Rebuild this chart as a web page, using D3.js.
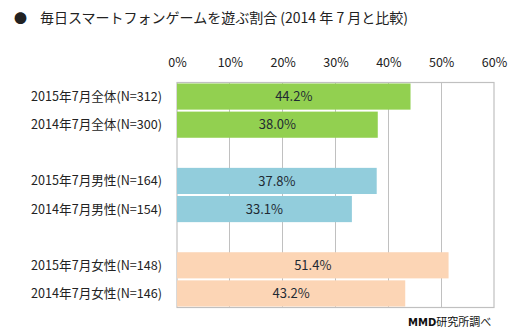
<!DOCTYPE html>
<html><head><meta charset="utf-8">
<script src="https://cdn.jsdelivr.net/npm/d3@7"></script>
<style>body{margin:0;background:#fff;}svg{display:block;font-family:"Noto Sans CJK JP","DejaVu Sans",sans-serif;}</style>
</head><body><div id="c"></div>
<script>
const categories = ["2015年7月全体(N=312)","2014年7月全体(N=300)","gap1","2015年7月男性(N=164)","2014年7月男性(N=154)","gap2","2015年7月女性(N=148)","2014年7月女性(N=146)"];
const values = [44.2, 38.0, null, 37.8, 33.1, null, 51.4, 43.2];
const colorGroups = ["all","all",null,"male","male",null,"female","female"];
const tickValues = [0,10,20,30,40,50,60];
const title = "毎日スマートフォンゲームを遊ぶ割合 (2014 年 7 月と比較)";
const source = "研究所調べ";

const W=516,H=331;
const svg=d3.select("#c").append("svg").attr("width",W).attr("height",H);
const colors={all:"#92D050",male:"#92CDDC",female:"#FCD5B5"};
const x=d3.scaleLinear().domain([0,60]).range([177,494]);
const y=d3.scaleBand().domain(categories).range([82.5,307.5]).paddingInner(0.07).paddingOuter(0.035);

// title
svg.append("text").attr("x",14).attr("y",23).attr("font-size",13).attr("fill","#222").text("●");
svg.append("text").attr("x",40).attr("y",23).attr("font-size",14).attr("fill","#222").text(title);

// gridlines
svg.append("g").selectAll("line").data(tickValues.slice(1,-1)).join("line")
  .attr("x1",d=>x(d)).attr("x2",d=>x(d)).attr("y1",82.5).attr("y2",307.5)
  .attr("stroke","#c0c0c0").attr("stroke-width",1).attr("shape-rendering","crispEdges");

// plot border
svg.append("rect").attr("x",x(0)).attr("y",82.5).attr("width",x(60)-x(0)).attr("height",225)
  .attr("fill","none").attr("stroke","#c0c0c0").attr("stroke-width",1.2);

// top axis
const ax=d3.axisTop(x).tickValues(tickValues).tickFormat(d=>d+"%").tickSize(0).tickPadding(0);
const axg=svg.append("g").attr("transform","translate(0,67)").call(ax);
axg.select(".domain").remove();
axg.selectAll("text").attr("font-size",12.5).attr("fill","#222").attr("font-family","'Noto Sans CJK JP',sans-serif");

// bars
const data=categories.map((c,i)=>({c,v:values[i],g:colorGroups[i]})).filter(d=>d.v!==null);
svg.append("g").selectAll("rect").data(data).join("rect")
  .attr("x",x(0)).attr("y",d=>y(d.c)).attr("width",d=>x(d.v)-x(0)).attr("height",y.bandwidth())
  .attr("fill",d=>colors[d.g]);
svg.append("g").selectAll("text").data(data).join("text")
  .attr("x",d=>(x(0)+x(d.v))/2).attr("y",d=>y(d.c)+y.bandwidth()/2).attr("dy","0.36em")
  .attr("text-anchor","middle").attr("font-size",13).attr("fill","#1f2a33")
  .text(d=>d.v.toFixed(1)+"%");

// category labels
svg.append("g").selectAll("text").data(data).join("text")
  .attr("x",162).attr("y",d=>y(d.c)+y.bandwidth()/2).attr("dy","0.36em")
  .attr("text-anchor","end").attr("font-size",12.6).attr("fill","#222").text(d=>d.c);

// source
const st=svg.append("text").attr("x",408).attr("y",326).attr("font-size",11).attr("fill","#111");
st.append("tspan").attr("font-weight","bold").attr("font-family","'DejaVu Sans',sans-serif").attr("font-size",10).text("MMD");
st.append("tspan").text(source);
</script></body></html>
